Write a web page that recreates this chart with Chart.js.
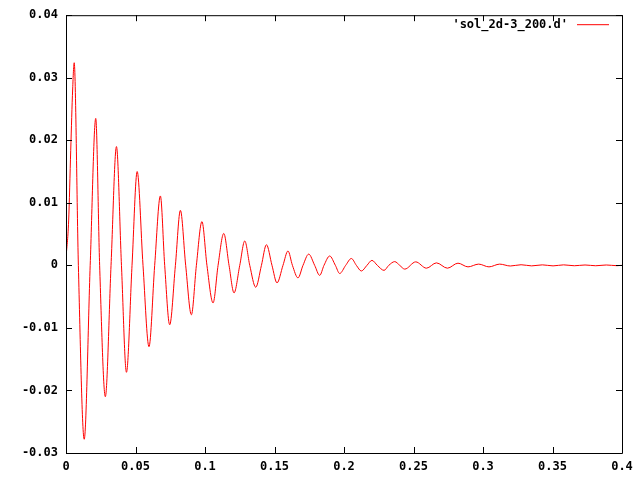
<!DOCTYPE html>
<html>
<head>
<meta charset="utf-8">
<script src="https://cdn.jsdelivr.net/npm/chart.js@4.4.1/dist/chart.umd.min.js"></script>
<style>
  html, body { margin: 0; padding: 0; background: #fff; }
  #wrap { width: 640px; height: 480px; }
</style>
</head>
<body>
<div id="wrap"><canvas id="plot" width="640" height="480"></canvas></div>
<script>
// gnuplot-style plot of a damped oscillation, 'sol_2d-3_200.d'
const seriesLabel = "'sol_2d-3_200.d'";

// extremes and zero crossings of the trace
const solX = [
  0, 0.0019, 0.0034, 0.0048, 0.0059, 0.0089, 0.0131, 0.0174, 0.0214, 0.0242,
  0.0283, 0.0324, 0.0363, 0.0399, 0.0435, 0.0475, 0.0512, 0.0554, 0.0597, 0.0638,
  0.0679, 0.0710, 0.0746, 0.0787, 0.0823, 0.0861, 0.0902, 0.0938, 0.0978, 0.1014,
  0.1058, 0.1094, 0.1135, 0.1173, 0.1209, 0.1250, 0.1286, 0.1322, 0.1365, 0.1406,
  0.1442, 0.1482, 0.1518, 0.1561, 0.1597, 0.1629, 0.1669, 0.1705, 0.1746, 0.1789,
  0.1825, 0.1856, 0.1897, 0.1938, 0.1969, 0.2012, 0.2053, 0.2089, 0.2125, 0.2165,
  0.2201, 0.2240, 0.2288, 0.2322, 0.2365, 0.2401, 0.2437,
  0.2516, 0.2593, 0.2665, 0.2744, 0.2820, 0.2892, 0.2969, 0.3043, 0.3120,
  0.3197, 0.3274, 0.3350, 0.3427, 0.3504, 0.3580, 0.3657, 0.3734, 0.3811, 0.3887,
  0.3964, 0.4
];
const solY = [
  0.0012, 0.0071, 0.0184, 0.0282, 0.0324, 0, -0.0278, 0, 0.0235, 0,
  -0.0210, 0, 0.0190, 0, -0.0171, 0, 0.0150, 0, -0.0130, 0,
  0.0111, 0, -0.0095, 0, 0.0088, 0, -0.0079, 0, 0.0070, 0,
  -0.0060, 0, 0.0051, 0, -0.0044, 0, 0.0039, 0, -0.0035, 0,
  0.0033, 0, -0.0028, 0, 0.0023, 0, -0.0020, 0, 0.0018, 0,
  -0.0016, 0, 0.0015, 0, -0.0013, 0, 0.0011, 0, -0.0009, 0,
  0.0008, 0, -0.0008, 0, 0.0006, 0, -0.0006,
  0.00056, -0.00045, 0.0004, -0.00045, 0.00035, -0.00024, 0.0002, -0.00024, 0.0002,
  -0.0001, 0.0001, -0.00008, 0.00008, -0.00008, 0.00008, -0.00006, 0.00006, -0.00006, 0.00006,
  -0.00005, 0
];

const xRange = [0, 0.4];
const yRange = [-0.03, 0.04];
const xStep = 0.05;
const yStep = 0.01;

const FONT = { family: "'DejaVu Sans Mono', monospace", size: 12, weight: 'bold' };

// frame with inward ticks on all four sides, like gnuplot
const gnuFrame = {
  id: 'gnuFrame',
  afterDraw(chart) {
    const { ctx, chartArea: a, scales } = chart;
    const tick = 6;
    ctx.save();
    ctx.strokeStyle = '#000';
    ctx.lineWidth = 1;
    ctx.beginPath();
    ctx.rect(a.left + 0.5, a.top + 0.5, a.right - a.left, a.bottom - a.top);
    scales.x.ticks.forEach(t => {
      const px = Math.round(scales.x.getPixelForValue(t.value)) + 0.5;
      ctx.moveTo(px, a.bottom); ctx.lineTo(px, a.bottom - tick);
      ctx.moveTo(px, a.top); ctx.lineTo(px, a.top + tick);
    });
    scales.y.ticks.forEach(t => {
      const py = Math.round(scales.y.getPixelForValue(t.value)) + 0.5;
      ctx.moveTo(a.left, py); ctx.lineTo(a.left + tick, py);
      ctx.moveTo(a.right, py); ctx.lineTo(a.right - tick, py);
    });
    ctx.stroke();

    // key: text then line sample, top right
    const ds = chart.data.datasets[0];
    const ky = a.top + 9.5;
    ctx.font = `${FONT.weight} ${FONT.size}px ${FONT.family}`;
    ctx.fillStyle = '#000';
    ctx.textAlign = 'right';
    ctx.textBaseline = 'middle';
    ctx.fillText(ds.label, a.right - 54, ky);
    ctx.strokeStyle = ds.borderColor;
    ctx.beginPath();
    ctx.moveTo(a.right - 45, ky);
    ctx.lineTo(a.right - 13, ky);
    ctx.stroke();
    ctx.restore();
  }
};

const fmt = v => String(parseFloat(Number(v).toFixed(2)));

new Chart(document.getElementById('plot'), {
  type: 'line',
  data: {
    datasets: [{
      label: seriesLabel,
      data: solX.map((x, i) => ({ x, y: solY[i] })),
      borderColor: '#ff0000',
      borderWidth: 1,
      pointRadius: 0,
      cubicInterpolationMode: 'monotone',
      fill: false,
    }],
  },
  options: {
    responsive: false,
    animation: false,
    devicePixelRatio: 1,
    layout: { padding: { top: 13, right: 18, left: 0, bottom: 0 } },
    plugins: { legend: { display: false }, tooltip: { enabled: false } },
    scales: {
      x: {
        type: 'linear',
        min: xRange[0],
        max: xRange[1],
        grid: { display: false, drawTicks: false },
        border: { display: false },
        ticks: { stepSize: xStep, callback: fmt, font: FONT, color: '#000', padding: 7, maxRotation: 0 },
        afterFit: s => { s.height = 27; },
      },
      y: {
        type: 'linear',
        min: yRange[0],
        max: yRange[1],
        grid: { display: false, drawTicks: false },
        border: { display: false },
        ticks: { stepSize: yStep, callback: fmt, font: FONT, color: '#000', padding: 8 },
        afterFit: s => { s.width = 66; },
      },
    },
  },
  plugins: [gnuFrame],
});
</script>
</body>
</html>
